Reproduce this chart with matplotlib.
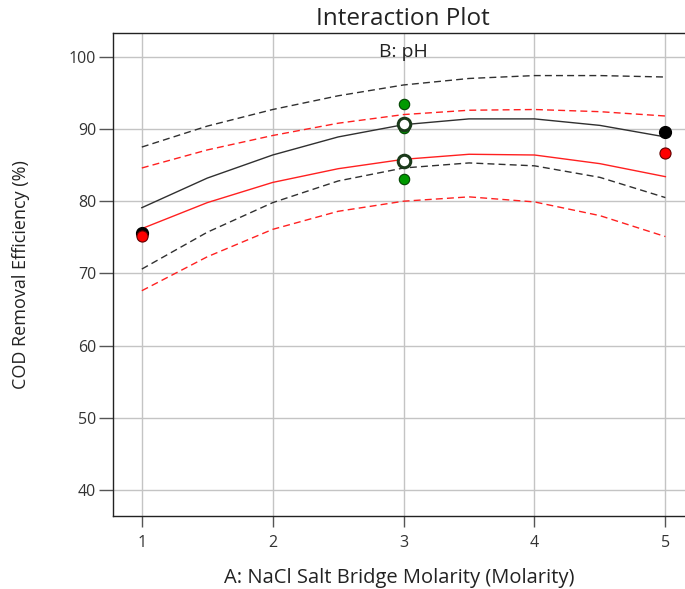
import numpy as np
import matplotlib.pyplot as plt

plt.rcParams['font.family'] = ['Open Sans', 'DejaVu Sans']

# levels of factor A
x_vals = [1, 1.5, 2, 2.5, 3, 3.5, 4, 4.5, 5]

# B high (black) prediction and 95% CI band
black_mid = [79.1, 83.2, 86.4, 88.9, 90.6, 91.4, 91.4, 90.5, 88.9]
black_hi = [87.5, 90.4, 92.7, 94.6, 96.1, 97.0, 97.4, 97.4, 97.2]
black_lo = [70.6, 75.7, 79.8, 82.8, 84.6, 85.3, 84.9, 83.3, 80.5]

# B low (red) prediction and 95% CI band
red_mid = [76.2, 79.8, 82.6, 84.5, 85.8, 86.5, 86.4, 85.2, 83.4]
red_hi = [84.6, 87.1, 89.1, 90.8, 92.0, 92.6, 92.7, 92.4, 91.8]
red_lo = [67.6, 72.3, 76.1, 78.6, 80.0, 80.6, 79.9, 78.0, 75.1]

# observed design points
black_pts_x = [1, 5]
black_pts_y = [75.6, 89.6]
red_pts_x = [1, 5]
red_pts_y = [75.2, 86.7]
green_pts_x = [3, 3, 3]
green_pts_y = [93.5, 90.2, 83.1]
center_x = [3, 3]
center_y = [90.7, 85.5]

xticks = [1, 2, 3, 4, 5]
yticks = [40, 50, 60, 70, 80, 90, 100]

fig = plt.figure(figsize=(6.85, 5.89), dpi=100)
ax = fig.add_axes([0.165, 0.124, 0.835, 0.820])

ax.plot(x_vals, black_mid, color='#303030', lw=1.0)
ax.plot(x_vals, black_hi, color='#303030', lw=1.0, ls=(0, (5, 3)))
ax.plot(x_vals, black_lo, color='#303030', lw=1.0, ls=(0, (5, 3)))
ax.plot(x_vals, red_mid, color='#ff2020', lw=1.0)
ax.plot(x_vals, red_hi, color='#ff2020', lw=1.0, ls=(0, (5, 3)))
ax.plot(x_vals, red_lo, color='#ff2020', lw=1.0, ls=(0, (5, 3)))

ax.plot(black_pts_x, black_pts_y, 'o', ms=8.5, mfc='black', mec='black', zorder=5)
ax.plot(red_pts_x, red_pts_y, 'o', ms=8, mfc='#ff0000', mec='#600000', mew=0.8, zorder=6)
ax.plot(green_pts_x, green_pts_y, 'o', ms=7.5, mfc='#009a00', mec='#004400', mew=0.8, zorder=5)
ax.plot(center_x, center_y, 'o', ms=9, mfc='white', mec='#1a3a1a', mew=2.2, zorder=6)

ax.text(3, 100.6, 'B: pH', ha='center', va='center', fontsize=14, color='#222222')

ax.set_xlim(0.78, 5.15)
ax.set_ylim(36.4, 103.3)
ax.set_xticks(xticks)
ax.set_yticks(yticks)
ax.grid(True, color='#c4c4c4', lw=1.0)
ax.set_axisbelow(True)
ax.tick_params(axis='y', direction='out', length=10, width=1, color='#555555',
               labelsize=11.5, labelcolor='#333333', pad=2)
ax.tick_params(axis='x', direction='out', length=8, width=1, color='#555555',
               labelsize=11.5, labelcolor='#333333', pad=6)
ax.spines['right'].set_visible(False)
for s in ['left', 'bottom', 'top']:
    ax.spines[s].set_color('#222222')
    ax.spines[s].set_linewidth(1.0)

ax.set_xlabel('A: NaCl Salt Bridge Molarity (Molarity)', fontsize=14.5, labelpad=12, color='#222222')
ax.set_ylabel('COD Removal Efficiency (%)', fontsize=13, labelpad=28, color='#222222')
fig.text(0.588, 0.968, 'Interaction Plot', ha='center', va='center', fontsize=17.5, color='#222222')

fig.savefig('out.png', dpi=100)
